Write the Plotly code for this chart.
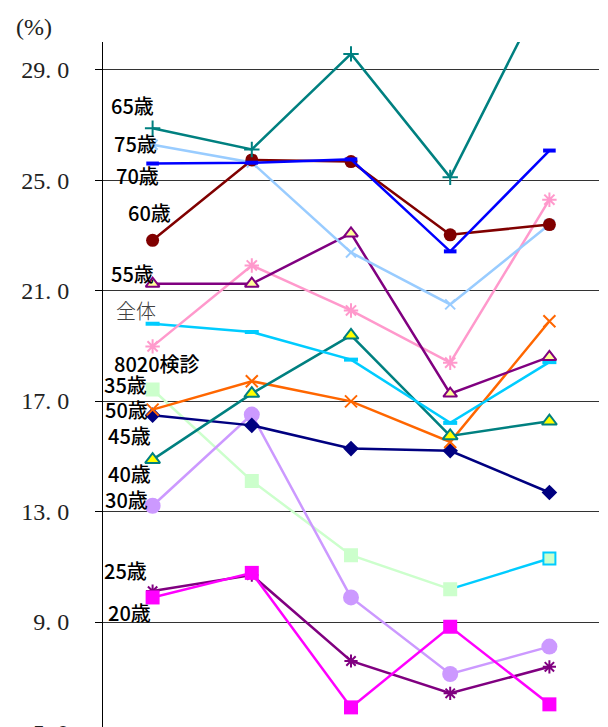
import plotly.graph_objects as go

categories = [0, 1, 2, 3, 4]

s65 = [26.88, 26.11, 29.57, 25.10, 32.2]
s75 = [26.28, 25.64, 22.38, 20.50, 23.39]
s70 = [25.60, 25.63, 25.75, 22.42, 26.07]
s60 = [22.82, 25.73, 25.67, 23.02, 23.39]
s55 = [21.25, 21.25, 23.07, 17.27, 18.60]
s8020 = [18.98, 21.91, 20.28, 18.39, 24.29]
s_all = [19.80, 19.50, 18.50, 16.21, 18.41]
s40 = [14.88, 17.27, 19.38, 15.74, 16.27]
s50 = [16.69, 17.72, 16.99, 15.52, 19.89]
s45 = [16.49, 16.12, 15.28, 15.20, 13.69]
s35 = [17.42, 14.11, 11.42, 10.19, 11.30]
s30 = [13.21, 16.51, 9.89, 7.12, 8.11]
s20 = [9.89, 10.78, 5.91, 8.83, 6.02]
s25 = [10.12, 10.70, 7.59, 6.42, 7.38]

tick_vals = [5, 9, 13, 17, 21, 25, 29]
tick_text = ["5. 0", "9. 0", "13. 0", "17. 0", "21. 0", "25. 0", "29. 0"]

label_text = ["65歳", "75歳", "70歳", "60歳", "55歳", "全体", "8020検診",
              "35歳", "50歳", "45歳", "40歳", "30歳", "25歳", "20歳"]
label_x = [-0.43, -0.40, -0.38, -0.26, -0.43, -0.38, -0.40,
           -0.50, -0.49, -0.46, -0.46, -0.49, -0.50, -0.46]
label_y = [27.70, 26.32, 25.17, 23.83, 21.62, 20.28, 18.37,
           17.61, 16.70, 15.76, 14.39, 13.45, 10.88, 9.36]

fig = go.Figure()

def add(y, color, symbol, size, fill=None, mline=None, mlw=0, lw=2.5, x=None, mode="lines+markers"):
    fig.add_trace(go.Scatter(
        x=categories if x is None else x, y=y, mode=mode,
        line=dict(color=color, width=lw),
        marker=dict(symbol=symbol, size=size,
                    color=fill if fill is not None else color,
                    line=dict(color=mline if mline is not None else color, width=mlw)),
        showlegend=False, hoverinfo="skip"))

add(s35[:4], "#CCFFCC", "square", 12, x=categories[:4], mode="lines")
add(s35[3:], "#00CCFF", "square", 12, x=categories[3:], mode="lines")
fig.add_trace(go.Scatter(
    x=categories, y=s35, mode="markers",
    marker=dict(symbol="square", size=12, color="#CCFFCC",
                line=dict(color=["#CCFFCC"] * 4 + ["#00CCFF"], width=2)),
    showlegend=False, hoverinfo="skip"))
add(s30, "#CC99FF", "circle", 16)
add(s25, "#800080", "asterisk", 11, mlw=2)
add(s20, "#FF00FF", "square", 14)
add(s45, "#000080", "diamond", 12)
add(s50, "#FF6600", "x-thin", 12, mlw=2)
add(s40, "#008080", "triangle-up", 13, fill="#FFFF00", mline="#008080", mlw=2)
add(s_all, "#00CCFF", "line-ew", 10, mlw=4)
add(s8020, "#FF99CC", "asterisk", 12, mlw=2)
add(s55, "#800080", "triangle-up", 12, fill="#FFFF99", mline="#800080", mlw=2)
add(s75, "#99CCFF", "x-thin", 10, mlw=2)
add(s60, "#800000", "circle", 13)
add(s70, "#0000FF", "line-ew", 9, mlw=4)
add(s65, "#008080", "cross-thin", 11, mlw=2)

for t, lx, ly in zip(label_text, label_x, label_y):
    is_all = t == "全体"
    fig.add_annotation(
        x=lx, y=ly, xref="x", yref="y", text=t, showarrow=False,
        xanchor="left", yanchor="middle", borderpad=0,
        font=dict(family="Noto Sans CJK JP", size=20,
                  color="#404040" if is_all else "#000000",
                  weight=300 if is_all else 500))

fig.add_annotation(text="(%)", xref="paper", yref="paper",
                   x=(34 - 103) / 496, y=(727 - 27) / 685,
                   xanchor="center", yanchor="middle", showarrow=False,
                   font=dict(family="Liberation Serif", size=24, color="#222222"))
fig.add_annotation(text="5. 0", xref="paper", yref="paper",
                   x=(71 - 103) / 496, y=(5 - 5.2) / 24.8,
                   xanchor="right", yanchor="middle", showarrow=False,
                   font=dict(family="Liberation Serif", size=24, color="#222222"))

fig.update_layout(
    width=600, height=719,
    margin=dict(l=95, r=9, t=34, b=0, autoexpand=False),
    paper_bgcolor="white", plot_bgcolor="white",
    xaxis=dict(range=[-0.5, 4.5], showgrid=False, zeroline=False,
               showticklabels=False, ticks="", showline=False, automargin=False),
    yaxis=dict(range=[5.2, 30], tickvals=tick_vals, ticktext=tick_text,
               showgrid=True, gridcolor="#333333", gridwidth=1,
               zeroline=False, showline=True, linecolor="#000000", linewidth=1,
               ticks="outside", ticklen=7, tickcolor="#000000",
               ticklabelstandoff=21, automargin=False,
               tickfont=dict(family="Liberation Serif", size=24, color="#222222")),
)

fig.write_html("out.html")
